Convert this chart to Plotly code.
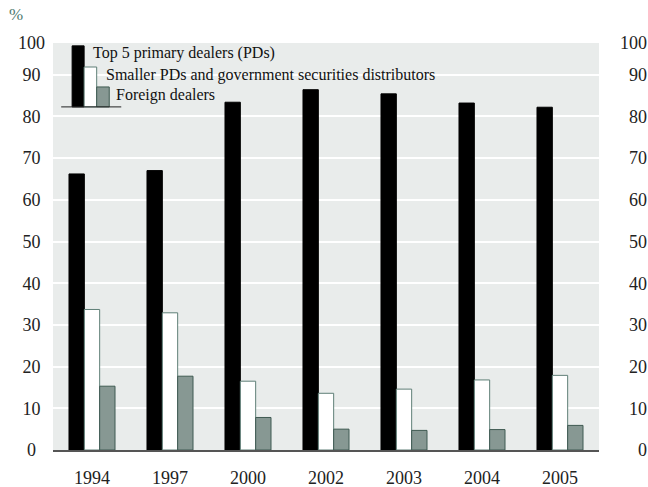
import plotly.graph_objects as go

years = ["1994", "1997", "2000", "2002", "2003", "2004", "2005"]
top5_pds = [66.2, 67.0, 83.4, 86.4, 85.4, 83.2, 82.2]
smaller_pds = [33.7, 32.9, 16.5, 13.6, 14.6, 16.8, 17.9]
foreign_dealers = [15.3, 17.7, 7.8, 5.0, 4.7, 4.9, 5.9]
series_names = [
    "Top 5 primary dealers (PDs)",
    "Smaller PDs and government securities distributors",
    "Foreign dealers",
]
tick_vals = [0, 10, 20, 30, 40, 50, 60, 70, 80, 90, 97.6]
tick_text = ["0", "10", "20", "30", "40", "50", "60", "70", "80", "90", "100"]

FONT = "Liberation Serif"
FSP = "\u2007"  # figure space (digit width)
PSP = "\u2008"  # punctuation space (half digit)
fills = ["#000000", "#ffffff", "#879893"]
edges = ["#000000", "#5f7f77", "#3f5a52"]


def centre_pad(t):
    # left labels sit centred under "100"
    return t + {1: FSP, 2: PSP, 3: ""}[len(t)]


def right_pad(t):
    # right labels are right-aligned
    return FSP * (3 - len(t)) + t


fig = go.Figure()
for name, vals, fc, ec in zip(series_names, [top5_pds, smaller_pds, foreign_dealers], fills, edges):
    fig.add_trace(
        go.Bar(
            x=years,
            y=vals,
            name=name,
            marker=dict(color=fc, line=dict(color=ec, width=1)),
        )
    )

# invisible trace so the right axis is drawn
fig.add_trace(go.Scatter(x=years, y=top5_pds, yaxis="y2", mode="markers",
                         marker=dict(opacity=0), showlegend=False, hoverinfo="skip"))

axis_common = dict(
    range=[0, 97.6],
    tickvals=tick_vals,
    showgrid=True,
    gridcolor="#ffffff",
    gridwidth=2,
    zeroline=False,
    ticks="",
    automargin=False,
    tickfont=dict(family=FONT, size=18, color="#222222"),
)

fig.update_layout(
    width=648,
    height=487,
    barmode="group",
    bargap=0.41,
    bargroupgap=0,
    showlegend=False,
    plot_bgcolor="#e9eceb",
    paper_bgcolor="#ffffff",
    margin=dict(l=53, r=49, t=43, b=37),
    font=dict(family=FONT, color="#222222"),
    xaxis=dict(
        showgrid=False,
        ticks="",
        automargin=False,
        tickfont=dict(family=FONT, size=18, color="#222222"),
        ticklabelstandoff=10,
        showline=True,
        linecolor="#555555",
        linewidth=2,
    ),
    yaxis=dict(axis_common, ticktext=[centre_pad(t) for t in tick_text], ticklabelstandoff=7),
    yaxis2=dict(axis_common, overlaying="y", side="right", showgrid=False,
                ticktext=[right_pad(t) for t in tick_text], ticklabelstandoff=20),
)

# custom legend: staggered swatches standing on a short baseline
swatches = [
    (0.035, 0.057, 0.993),
    (0.057, 0.080, 0.941),
    (0.080, 0.103, 0.892),
]
base = 0.843
for (x0, x1, top), fc, ec in zip(swatches, fills, edges):
    fig.add_shape(type="rect", xref="paper", yref="paper", x0=x0, x1=x1, y0=base, y1=top,
                  fillcolor=fc, line=dict(color=ec, width=1))
fig.add_shape(type="line", xref="paper", yref="paper", x0=0.015, x1=0.125, y0=base, y1=base,
              line=dict(color="#222222", width=1))

label_pos = [(0.069, 0.975), (0.093, 0.921), (0.112, 0.872)]
for name, (lx, ly) in zip(series_names, label_pos):
    fig.add_annotation(xref="paper", yref="paper", x=lx, y=ly, text=name, showarrow=False,
                       xanchor="left", yanchor="middle",
                       font=dict(family=FONT, size=16, color="#111111"))

fig.add_annotation(xref="paper", yref="paper", x=-0.084, y=1.071, text="%", showarrow=False,
                   xanchor="left", yanchor="middle",
                   font=dict(family=FONT, size=17, color="#4d7a70"))

# drop the default 8px page margin so the figure fills the window
fig.write_html("out.html", config={"displayModeBar": False},
               post_script="document.body.style.margin='0';")
